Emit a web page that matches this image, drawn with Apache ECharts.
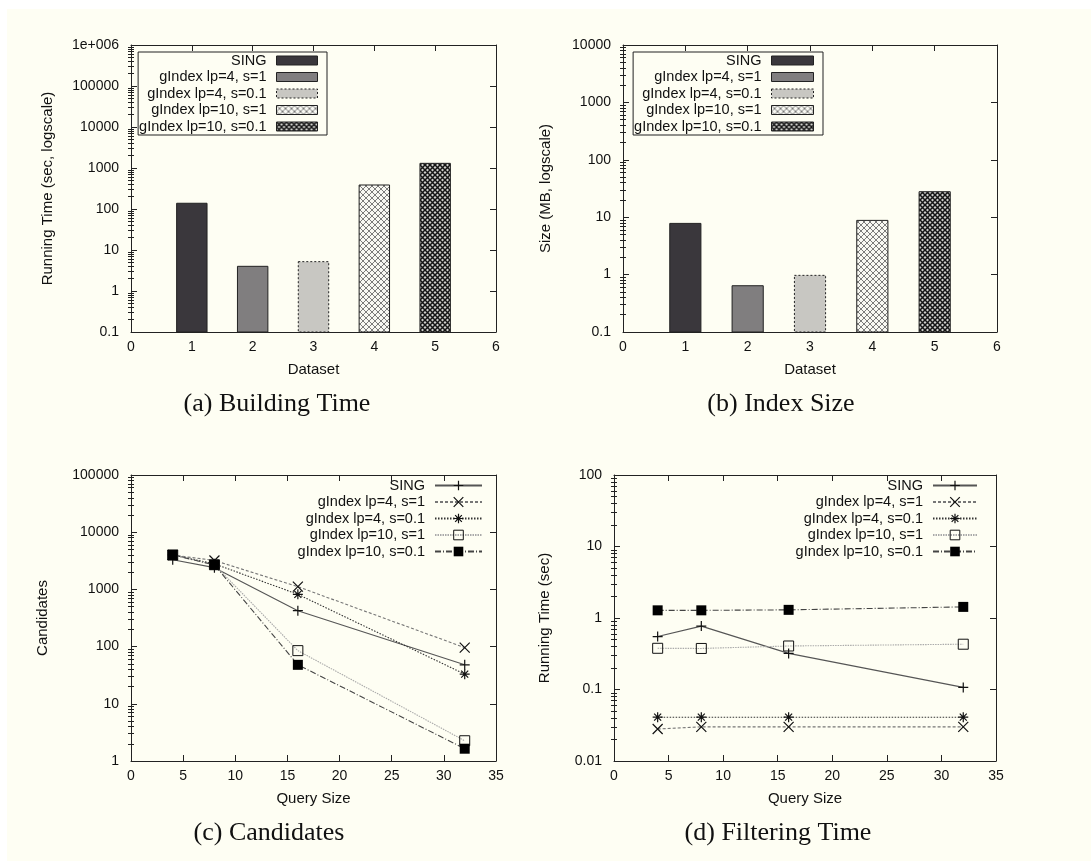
<!DOCTYPE html>
<html>
<head>
<meta charset="utf-8">
<script src="https://cdn.jsdelivr.net/npm/echarts@6/dist/echarts.min.js"></script>
<style>
html, body { margin: 0; padding: 0; background: #fff; }
#main { width: 1091px; height: 861px; }
</style>
</head>
<body>
<div id="main"></div>
<script>
// values
const seriesNames = ['SING', 'gIndex lp=4, s=1', 'gIndex lp=4, s=0.1', 'gIndex lp=10, s=1', 'gIndex lp=10, s=0.1']
const datasets = [1, 2, 3, 4, 5]
const buildTime = [138, 4.0, 5.2, 385, 1300]
const indexSize = [7.8, 0.64, 0.97, 8.8, 27.8]

const querySizes = [4, 8, 16, 32]
const candSING = [3300, 2400, 425, 48]
const candLp4s1 = [4000, 3200, 1115, 96]
const candLp4s01 = [4000, 2800, 820, 33]
const candLp10s1 = [4000, 2700, 85, 2.26]
const candLp10s01 = [4000, 2680, 48, 1.64]

const filtSING = [0.55, 0.77, 0.32, 0.107]
const filtLp4s1 = [0.028, 0.030, 0.030, 0.030]
const filtLp4s01 = [0.041, 0.041, 0.041, 0.041]
const filtLp10s1 = [0.377, 0.375, 0.406, 0.43]
const filtLp10s01 = [1.28, 1.28, 1.30, 1.43]

const captions = ['(a) Building Time', '(b) Index Size', '(c) Candidates', '(d) Filtering Time']
// log axis ranges as exponents [from, to]
const logRanges = [[-1, 6], [-1, 4], [0, 5], [-2, 2]]

const FONT = 'Liberation Sans, Arial, sans-serif'
const INK = '#222'

function hatch(bg, fg, step, lw) {
  const c = document.createElement('canvas')
  c.width = c.height = step
  const g = c.getContext('2d')
  g.fillStyle = bg
  g.fillRect(0, 0, step, step)
  g.strokeStyle = fg
  g.lineWidth = lw
  g.beginPath()
  g.moveTo(0, 0); g.lineTo(step, step)
  g.moveTo(step, 0); g.lineTo(0, step)
  g.stroke()
  return { image: c, repeat: 'repeat' }
}

const barFills = ['#3a373c', '#807e7f', '#c8c7c2', hatch('#f8f8f2', '#5a5a5a', 6, 0.8), hatch('#cfcfcb', '#151515', 5, 1.5)]
const barDash = [null, null, [2, 2], null, null]

const grids = [
  { left: 131, top: 45, width: 365, height: 287 },
  { left: 623, top: 45, width: 374, height: 287 },
  { left: 131, top: 475, width: 365, height: 286 },
  { left: 614, top: 475, width: 382, height: 286 }
]

const axisLine = { show: true, onZero: false, lineStyle: { color: INK, width: 1 } }
const tick = { show: true, inside: true, length: 6, lineStyle: { color: INK } }
const label = { color: '#111', fontSize: 14, fontFamily: FONT }
const nameStyle = { color: '#111', fontSize: 15, fontFamily: FONT }

function xAxes(gi, min, max, interval, name) {
  return [
    { type: 'value', gridIndex: gi, position: 'bottom', min, max, interval,
      name, nameLocation: 'middle', nameGap: 30, nameTextStyle: nameStyle,
      axisLine, axisTick: tick, axisLabel: Object.assign({ margin: 8 }, label), splitLine: { show: false } },
    { type: 'value', gridIndex: gi, position: 'top', min, max, interval,
      axisLine, axisTick: tick, axisLabel: { show: false }, splitLine: { show: false } }
  ]
}

// 4 vertical axes per grid: log axis left/right, plus minor ticks (2..9 per decade)
// drawn on helper axes that run in exponent space
function yAxes(gi, name, nameGap) {
  const [lo, hi] = logRanges[gi]
  const min = Math.pow(10, lo)
  const max = Math.pow(10, hi)
  const minorVals = []
  for (let k = lo; k < hi; k++) {
    for (let m = 2; m <= 9; m++) minorVals.push(k + Math.log10(m))
  }
  const minorAxis = pos => ({
    type: 'value', gridIndex: gi, position: pos, min: lo, max: hi,
    axisLine: { show: false },
    axisTick: { show: true, inside: true, length: 3, customValues: minorVals, lineStyle: { color: INK } },
    axisLabel: { show: false }, splitLine: { show: false }
  })
  return [
    { type: 'log', logBase: 10, gridIndex: gi, position: 'left', min, max,
      name, nameLocation: 'middle', nameGap, nameTextStyle: nameStyle,
      axisLine, axisTick: tick,
      axisLabel: Object.assign({ margin: 12, formatter: v => v >= 1e6 ? '1e+006' : String(v) }, label),
      splitLine: { show: false } },
    { type: 'log', logBase: 10, gridIndex: gi, position: 'right', min, max,
      axisLine, axisTick: tick, axisLabel: { show: false }, splitLine: { show: false } },
    minorAxis('left'),
    minorAxis('right')
  ]
}

function barSeries(gi, values) {
  return values.map((v, i) => ({
    type: 'custom',
    name: seriesNames[i],
    xAxisIndex: gi * 2,
    yAxisIndex: gi * 4,
    data: [[datasets[i], v]],
    itemStyle: { color: barFills[i], borderColor: INK, borderWidth: 1 },
    renderItem(params, api) {
      const top = api.coord([api.value(0), api.value(1)])
      const w = api.size([0.5, 1])[0]
      const bottom = params.coordSys.y + params.coordSys.height
      return {
        type: 'rect',
        shape: { x: top[0] - w / 2, y: top[1], width: w, height: bottom - top[1] },
        style: { fill: api.visual('color'), stroke: INK, lineWidth: 1, lineDash: barDash[i] }
      }
    }
  }))
}

const marks = [
  { symbol: 'path://M0,5H10M5,0V10', fill: 'rgba(0,0,0,0)', border: 1.2, line: '#555', type: 'solid' },
  { symbol: 'path://M0,0L10,10M10,0L0,10', fill: 'rgba(0,0,0,0)', border: 1.2, line: '#777', type: [3, 2] },
  { symbol: 'path://M0,5H10M5,0V10M1.5,1.5L8.5,8.5M8.5,1.5L1.5,8.5', fill: 'rgba(0,0,0,0)', border: 1.2, line: '#333', type: [1.5, 1.5] },
  { symbol: 'rect', fill: 'rgba(255,255,255,0)', border: 1, line: '#aaa', type: [1.5, 1] },
  { symbol: 'rect', fill: '#000', border: 0, line: '#444', type: [6, 2, 1, 2] }
]

function lineSeries(gi, arrs) {
  return arrs.map((arr, i) => ({
    type: 'line',
    name: seriesNames[i] + ' ',
    xAxisIndex: gi * 2,
    yAxisIndex: gi * 4,
    data: querySizes.map((q, k) => [q, arr[k]]),
    symbol: marks[i].symbol,
    symbolSize: 10,
    showAllSymbol: true,
    itemStyle: { color: marks[i].fill, borderColor: '#111', borderWidth: marks[i].border },
    lineStyle: { color: marks[i].line, width: 1.1, type: marks[i].type },
    z: 2 + i
  }))
}

const barLegendData = seriesNames.map((n, i) => ({
  name: n,
  itemStyle: { borderColor: INK, borderWidth: 1, borderType: barDash[i] || 'solid' }
}))
const lineLegendData = seriesNames.map((n, i) => ({
  name: n + ' ',
  itemStyle: { color: marks[i].fill, borderColor: '#111', borderWidth: marks[i].border }
}))

function legend(data, pos, boxed, iconW) {
  return Object.assign({
    orient: 'vertical',
    align: 'right',
    data,
    itemWidth: iconW,
    itemHeight: boxed ? 9 : 12,
    itemGap: 1.5,
    padding: boxed ? [1, 9, 1, 1] : 0,
    borderColor: boxed ? INK : 'transparent',
    borderWidth: boxed ? 1 : 0,
    icon: boxed ? 'rect' : undefined,
    selectedMode: false,
    formatter: n => n.trim(),
    textStyle: { color: '#111', fontSize: 14.5, fontFamily: FONT, lineHeight: 14, padding: [0, 5, 0, 0] }
  }, pos)
}

const option = {
  animation: false,
  backgroundColor: '#fff',
  graphic: [
    { type: 'rect', left: 7, top: 9, shape: { width: 1084, height: 852 }, style: { fill: '#fefef3' }, z: -10 }
  ].concat(captions.map((t, i) => ({
    type: 'text',
    x: [277, 781, 269, 778][i],
    y: i < 2 ? 404 : 833,
    style: { text: t, fill: '#111', font: '26px "Liberation Serif", "Times New Roman", serif', textAlign: 'center', textVerticalAlign: 'middle' }
  }))),
  grid: grids.map(g => Object.assign({ outerBoundsMode: 'none' }, g)),
  xAxis: [].concat(
    xAxes(0, 0, 6, 1, 'Dataset'),
    xAxes(1, 0, 6, 1, 'Dataset'),
    xAxes(2, 0, 35, 5, 'Query Size'),
    xAxes(3, 0, 35, 5, 'Query Size')
  ),
  yAxis: [].concat(
    yAxes(0, 'Running Time (sec, logscale)', 76),
    yAxes(1, 'Size (MB, logscale)', 70),
    yAxes(2, 'Candidates', 81),
    yAxes(3, 'Running Time (sec)', 62)
  ),
  legend: [
    legend(barLegendData, { right: 764, top: 52 }, true, 41),
    legend(barLegendData, { right: 268, top: 52 }, true, 42),
    legend(lineLegendData, { right: 608, top: 478 }, false, 47),
    legend(lineLegendData, { right: 113, top: 478 }, false, 44)
  ],
  series: [].concat(
    barSeries(0, buildTime),
    barSeries(1, indexSize),
    lineSeries(2, [candSING, candLp4s1, candLp4s01, candLp10s1, candLp10s01]),
    lineSeries(3, [filtSING, filtLp4s1, filtLp4s01, filtLp10s1, filtLp10s01])
  )
}

const chart = echarts.init(document.getElementById('main'))
chart.setOption(option)
</script>
</body>
</html>
